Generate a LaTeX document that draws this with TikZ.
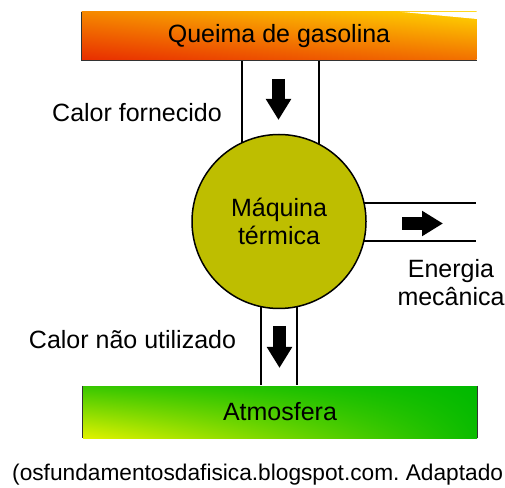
\documentclass[tikz,border=0pt]{standalone}
\usepackage{fontspec}
\setmainfont{Liberation Sans}
\usetikzlibrary{arrows.meta, backgrounds, shadings}
\definecolor{olive}{RGB}{190, 190, 0}
\definecolor{fire}{RGB}{232, 45, 0}
\definecolor{flame}{RGB}{245, 135, 0}
\definecolor{ember}{RGB}{242, 112, 0}
\definecolor{sun}{RGB}{255, 212, 0}
\definecolor{leaf}{RGB}{0, 185, 0}
\definecolor{lime}{RGB}{225, 242, 0}

\tikzset{
  label text/.style={font=\fontsize{25}{28}\selectfont, inner sep=0, align=center},
  channel/.style={line width=1.5},
  flow/.style={line width=13.5, -{Triangle[width=24, length=21]}}
}

\begin{document}
\frenchspacing
\begin{tikzpicture}[x=1pt, y=1pt]
  \useasboundingbox (0, 0) rectangle (505, 487);

  \node[label text, minimum width=395, minimum height=48, upper left=flame, upper right=sun, lower left=fire, lower right=ember] (fuel) at (279, 451) {Queima de gasolina};
  \fill[white] (400, 475.2) -- (477, 475.2) -- (477, 468) -- cycle;
  \draw[black!80, line width=0.8] (fuel.north west) -- (fuel.south west) -- (fuel.south east);

  \node[label text, minimum width=394, minimum height=52, upper left=leaf!75!lime, upper right=leaf, lower left=lime, lower right=leaf!95!lime] (air) at (280, 75) {Atmosfera};
  \draw[black!80, line width=0.8] (air.north west) -- (air.south west);
  \draw[black!80, line width=0.8] (air.north east) -- (air.south east);

  \node[label text, circle, draw, line width=1.5, fill=olive, minimum size=174] (machine) at (279, 265.5) {Máquina\\térmica};
  \coordinate (work) at (476, 265.5);

  \begin{scope}[on background layer]
    \draw[channel] ([xshift=-37]fuel.south) -- ([xshift=-37]machine.center);
    \draw[channel] ([xshift=40]fuel.south) -- ([xshift=40]machine.center);
    \draw[channel] ([xshift=-18]machine.center) -- ([xshift=-18, yshift=1]air.north -| machine.center);
    \draw[channel] ([xshift=18]machine.center) -- ([xshift=18, yshift=1]air.north -| machine.center);
    \draw[channel] ([yshift=18.5]machine.center) -- ([yshift=18.5]work);
    \draw[channel] ([yshift=-19.5]machine.center) -- ([yshift=-19.5]work);
  \end{scope}

  \draw[flow] (278.5, 408) -- (278.5, 367);
  \draw[flow] (402, 263.5) -- (443, 263.5);
  \draw[flow] (279.5, 161) -- (279.5, 119);

  \node[label text] (heatin) at (137, 374) {Calor fornecido};
  \node[label text] (heatout) at (132.5, 147) {Calor não utilizado};
  \node[label text] (mech) at (451, 204) {Energia\\mecânica};

  \node[font=\fontsize{22.7}{27}\selectfont, inner sep=0, anchor=west] (source) at (12, 12) {(osfundamentosdafisica.blogspot.com. Adaptado};

\end{tikzpicture}
\end{document}
